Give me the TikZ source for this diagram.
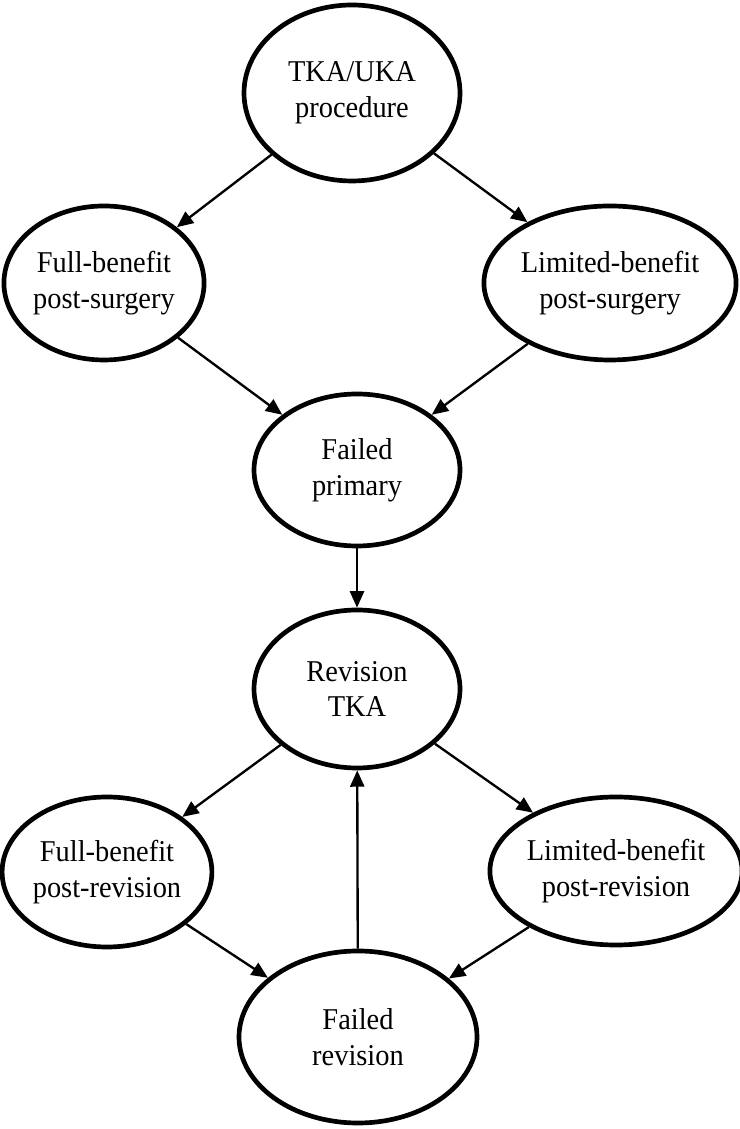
\documentclass[tikz,border=0pt]{standalone}
\usepackage{fontspec}
\setmainfont{Liberation Serif}[FakeStretch=0.94]
\usetikzlibrary{shapes.geometric,arrows.meta}
\tikzset{state/.style={ellipse, draw, line width=4pt, inner sep=0pt, align=center, font=\fontsize{25.8}{30.7}\selectfont}}
\newcommand{\drawflow}{\draw[line width=2pt, -{Triangle[length=14pt,width=12pt]}]}
\newcommand{\statenode}[6]{\node[state, minimum width=#4cm, minimum height=#5cm] (#1) at (#2,#3) {#6};}

\begin{document}
\begin{tikzpicture}
\useasboundingbox (0,0) rectangle (22.17,33.87);
\statenode{proc}{10.56}{31.08}{6.48}{5.28}{TKA/UKA\\procedure}
    \statenode{fullsurg}{3.12}{25.38}{5.88}{4.62}{Full-benefit\\post-surgery}
    \statenode{limsurg}{18.30}{25.38}{6.66}{4.62}{Limited-benefit\\post-surgery}
    \statenode{failprim}{10.71}{19.77}{6.18}{4.56}{Failed\\primary}
    \statenode{revtka}{10.71}{13.20}{6.18}{4.74}{Revision\\TKA}
    \statenode{fullrev}{3.21}{7.71}{6.12}{4.50}{Full-benefit\\post-revision}
    \statenode{limrev}{18.48}{7.74}{7.08}{4.44}{Limited-benefit\\post-revision}
    \statenode{failrev}{10.74}{2.76}{7.14}{5.16}{Failed\\revision}
\drawflow (proc)--(fullsurg);\drawflow (proc)--(limsurg);
    \drawflow (fullsurg)--(failprim);\drawflow (limsurg)--(failprim);
    \drawflow (failprim)--(revtka);
    \drawflow (revtka)--(fullrev);\drawflow (revtka)--(limrev);
    \drawflow (fullrev)--(failrev);\drawflow (limrev)--(failrev);
    \drawflow (failrev)--(revtka);
\end{tikzpicture}
\end{document}
